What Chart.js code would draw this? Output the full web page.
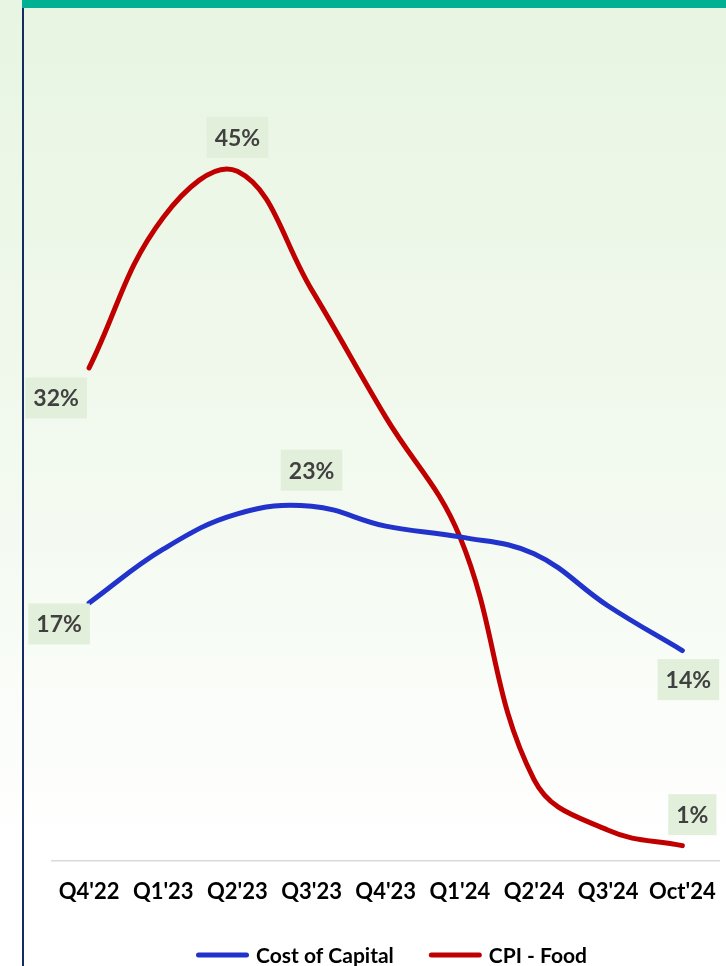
<!DOCTYPE html>
<html>
<head>
<meta charset="utf-8">
<script src="https://cdn.jsdelivr.net/npm/chart.js@4"></script>
<style>
  html, body { margin: 0; padding: 0; background: #ffffff; }
  #c { display: block; }
</style>
</head>
<body>
<canvas id="c" width="726" height="966"></canvas>
<script>
// ---- data ----
const categories = ["Q4'22", "Q1'23", "Q2'23", "Q3'23", "Q4'23", "Q1'24", "Q2'24", "Q3'24", "Oct'24"];
const costOfCapital = [16.8, 20.3, 22.6, 23.1, 21.8, 21.1, 20.0, 16.6, 13.7];
const cpiFood = [32.1, 41.9, 44.9, 37.2, 28.9, 21.1, 5.3, 2.0, 1.0];
const seriesNames = ["Cost of Capital", "CPI - Food"];
const labelledCost = [0, 3, 8];
const labelledCpi = [0, 2, 8];

const FONT = 'Lato';

const bgPlugin = {
  id: 'bgDecor',
  beforeDraw(chart) {
    const { ctx, width, height } = chart;
    ctx.save();
    const g = ctx.createLinearGradient(0, 0, 0, height);
    g.addColorStop(0, '#e8f5e2');
    g.addColorStop(0.55, '#f4faf1');
    g.addColorStop(0.88, '#ffffff');
    g.addColorStop(1, '#ffffff');
    ctx.fillStyle = g;
    ctx.fillRect(0, 0, width, height);
    ctx.fillStyle = '#00b092';
    ctx.fillRect(22, 0, width - 22, 8);
    ctx.fillStyle = '#172b63';
    ctx.fillRect(22, 8, 2, height - 8);
    ctx.restore();
  }
};

const boxLabelPlugin = {
  id: 'boxLabels',
  afterDatasetsDraw(chart, args, opts) {
    const ctx = chart.ctx;
    opts.items.forEach(it => {
      const meta = chart.getDatasetMeta(it.ds);
      const pt = meta.data[it.i];
      const v = chart.data.datasets[it.ds].data[it.i];
      const txt = Math.round(v) + '%';
      ctx.save();
      ctx.font = 'bold 23px ' + FONT;
      const w = ctx.measureText(txt).width + 16;
      const h = 41;
      const cx = pt.x + it.dx, cy = pt.y + it.dy;
      ctx.fillStyle = '#e2efda';
      ctx.fillRect(cx - w / 2, cy - h / 2, w, h);
      ctx.fillStyle = '#404040';
      ctx.textAlign = 'center';
      ctx.textBaseline = 'middle';
      ctx.fillText(txt, cx, cy + 1);
      ctx.restore();
    });
  }
};

const legendPlugin = {
  id: 'lineLegend',
  afterDraw(chart, args, opts) {
    const ctx = chart.ctx;
    ctx.save();
    ctx.font = 'bold 21px ' + FONT;
    const items = chart.data.datasets.map(ds => ({
      text: ds.label, color: ds.borderColor, tw: ctx.measureText(ds.label).width
    }));
    let total = 0;
    items.forEach((it, k) => { total += opts.swatch + opts.gap + it.tw + (k ? opts.itemGap : 0); });
    let x = opts.centerX - total / 2;
    const y = opts.y;
    items.forEach(it => {
      ctx.strokeStyle = it.color;
      ctx.lineWidth = 5;
      ctx.lineCap = 'round';
      ctx.beginPath();
      ctx.moveTo(x + 2.5, y);
      ctx.lineTo(x + opts.swatch - 2.5, y);
      ctx.stroke();
      x += opts.swatch + opts.gap;
      ctx.fillStyle = '#000000';
      ctx.textAlign = 'left';
      ctx.textBaseline = 'middle';
      ctx.fillText(it.text, x, y + 1);
      x += it.tw + opts.itemGap;
    });
    ctx.restore();
  }
};

const labelItems = [];
const costOffsets = { 0: [-30, 21], 3: [0, -36], 8: [6, 29] };
const cpiOffsets = { 0: [-33, 30], 2: [0, -34], 8: [10, -31] };
labelledCost.forEach(i => labelItems.push({ ds: 0, i, dx: costOffsets[i][0], dy: costOffsets[i][1] }));
labelledCpi.forEach(i => labelItems.push({ ds: 1, i, dx: cpiOffsets[i][0], dy: cpiOffsets[i][1] }));

new Chart(document.getElementById('c'), {
  type: 'line',
  data: {
    labels: categories,
    datasets: [
      {
        label: seriesNames[0],
        data: costOfCapital,
        borderColor: '#2233cc',
        backgroundColor: '#2233cc',
        borderWidth: 5,
        borderCapStyle: 'round',
        pointRadius: 0,
        tension: 0.4,
        fill: false
      },
      {
        label: seriesNames[1],
        data: cpiFood,
        borderColor: '#c00000',
        backgroundColor: '#c00000',
        borderWidth: 5,
        borderCapStyle: 'round',
        pointRadius: 0,
        tension: 0.4,
        fill: false
      }
    ]
  },
  options: {
    responsive: false,
    animation: false,
    layout: { padding: { top: 93, left: 52, right: 6, bottom: 57 } },
    scales: {
      x: {
        offset: true,
        grid: { display: false },
        border: { display: true, color: '#d9d9d9', width: 1.5 },
        ticks: {
          color: '#000000',
          font: { family: FONT, size: 22, weight: 'bold' },
          padding: 10,
          maxRotation: 0,
          autoSkip: false
        },
        afterFit(scale) { scale.height = 48; }
      },
      y: { display: false, min: 0, max: 50 }
    },
    plugins: {
      legend: { display: false },
      tooltip: { enabled: false },
      boxLabels: { items: labelItems },
      lineLegend: { centerX: 391.5, y: 955, swatch: 53, gap: 7, itemGap: 35 }
    }
  },
  plugins: [bgPlugin, boxLabelPlugin, legendPlugin]
});
</script>
</body>
</html>
